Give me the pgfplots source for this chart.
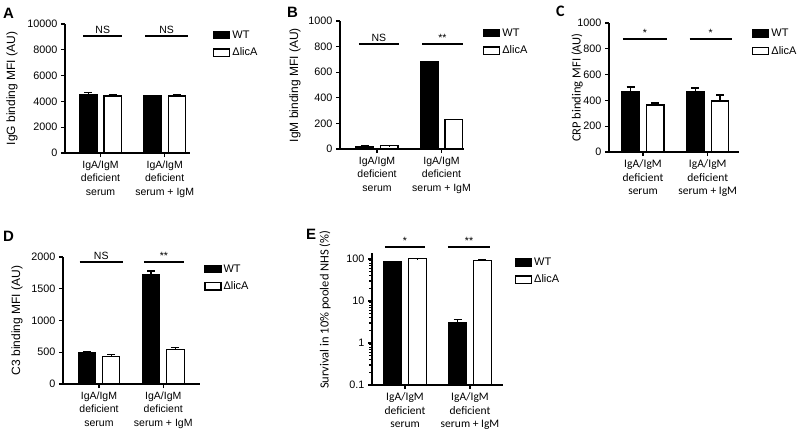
\documentclass[border=0pt]{standalone}
\usepackage{pgfplots}
\pgfplotsset{compat=1.18}
\usepackage{fontspec}
\setmainfont{Liberation Sans}
\newfontfamily\calib{Carlito}

\pgfplotsset{
 panel/.style={
  scale only axis,
  axis x line*=bottom, axis y line*=left,
  axis line style={line width=1.3pt},
  tick align=outside,
  major tick length=4pt,
  every tick/.style={black, line width=1.1pt},
  xtick={1,2},
  xticklabels={{IgA/IgM\\deficient\\serum},{IgA/IgM\\deficient\\serum + IgM}},
  xticklabel style={align=center, font=\fontsize{10.5}{13.5}\selectfont},
  yticklabel style={font=\fontsize{10.8}{11}\selectfont},
  scaled y ticks=false,
  /pgf/number format/assume math mode=true,
  /pgf/number format/1000 sep={},
  ylabel style={font=\fontsize{12}{12}\selectfont},
  clip=false,
  ymin=0,
  legend style={draw=none, fill=none, inner sep=0pt, font=\fontsize{11}{12}\selectfont, row sep=4pt, legend cell align=left},
 },
 wtbar/.style={ybar, bar width=0.27, bar shift=0pt, fill=black, draw=black, line width=1.2pt,
  /pgfplots/legend image code/.code={\draw[fill=black,draw=black,line width=1.2pt] (0pt,-3.6pt) rectangle (16pt,3.6pt);},
  error bars/.cd, y dir=plus, y explicit, error mark=|, error bar style={line width=1.1pt, black}, error mark options={line width=1.1pt, mark size=4pt, black}},
 kobar/.style={ybar, bar width=0.27, bar shift=0pt, fill=white, draw=black, line width=1.2pt,
  /pgfplots/legend image code/.code={\draw[fill=white,draw=black,line width=1.2pt] (0pt,-3.6pt) rectangle (16pt,3.6pt);},
  error bars/.cd, y dir=plus, y explicit, error mark=|, error bar style={line width=1.1pt, black}, error mark options={line width=1.1pt, mark size=4pt, black}},
}
\newcommand{\sig}[4]{\draw[line width=1.3pt] (axis cs:#1,#3) -- (axis cs:#2,#3) node[midway, above, inner sep=1.5pt, font=\fontsize{10.5}{10}\selectfont] {#4};}
\newcommand{\panellabel}[3]{\node[anchor=base west, inner sep=0pt, font=\bfseries\fontsize{15}{15}\selectfont] at (#1pt,-#2pt) {#3};}

\begin{document}
\begin{tikzpicture}
\useasboundingbox (0,0) rectangle (800pt,-432pt);

% ---------- A ----------
\begin{axis}[panel, at={(65pt,-153pt)}, anchor=south west, width=125pt, height=129pt,
  xmin=0.447, xmax=2.394, ymax=10000, ytick={0,2000,...,10000},
  ylabel={IgG binding MFI (AU)}, ylabel style={at={(axis description cs:-0.424,0.5)}, anchor=center},
  legend style={at={(1.184,0.965)}, anchor=north west}]
\addplot[wtbar] coordinates {(0.81,4550) +- (0,130) (1.81,4420) +- (0,30)};
\addplot[kobar] coordinates {(1.19,4420) +- (0,80) (2.19,4420) +- (0,80)};
\legend{WT, ΔlicA}
\sig{0.73}{1.34}{9070}{NS}
\sig{1.70}{2.36}{9070}{NS}
\end{axis}

% ---------- B ----------
\begin{axis}[panel, at={(340pt,-149pt)}, anchor=south west, width=124pt, height=128pt,
  xmin=0.426, xmax=2.349, ymax=1000, ytick={0,200,...,1000},
  ylabel={IgM binding MFI (AU)}, ylabel style={at={(axis description cs:-0.363,0.5)}, anchor=center},
  legend style={at={(1.153,0.957)}, anchor=north west}]
\addplot[wtbar] coordinates {(0.81,22) +- (0,2) (1.81,680) +- (0,5)};
\addplot[kobar] coordinates {(1.19,25) +- (0,2) (2.19,232) +- (0,2)};
\legend{WT, ΔlicA}
\sig{0.72}{1.34}{820}{NS}
\sig{1.70}{2.33}{820}{**}
\end{axis}

% ---------- C ----------
\begin{axis}[panel, at={(609pt,-152pt)}, anchor=south west, width=130pt, height=129pt,
  xmin=0.475, xmax=2.483, ymax=1000, ytick={0,200,...,1000},
  xticklabel style={font=\calib\fontsize{11.5}{13.5}\selectfont},
  ylabel={CRP binding MFI (AU)}, ylabel style={font=\calib\fontsize{12.5}{12}\selectfont, at={(axis description cs:-0.245,0.5)}, anchor=center},
  legend style={at={(1.10,0.97)}, anchor=north west}]
\addplot[wtbar] coordinates {(0.81,465) +- (0,39) (1.81,465) +- (0,31)};
\addplot[kobar] coordinates {(1.19,364) +- (0,16) (2.19,395) +- (0,47)};
\legend{WT, ΔlicA}
\sig{0.69}{1.37}{876}{*}
\sig{1.72}{2.37}{876}{*}
\end{axis}

% ---------- D ----------
\begin{axis}[panel, at={(63pt,-384pt)}, anchor=south west, width=137pt, height=127pt,
  xmin=0.44, xmax=2.572, ymax=2000, ytick={0,500,...,2000},
  ylabel={C3 binding MFI (AU)}, ylabel style={at={(axis description cs:-0.336,0.5)}, anchor=center},
  legend style={at={(1.03,0.957)}, anchor=north west}]
\addplot[wtbar] coordinates {(0.81,500) +- (0,5) (1.81,1720) +- (0,60)};
\addplot[kobar] coordinates {(1.19,430) +- (0,35) (2.19,540) +- (0,30)};
\legend{WT, ΔlicA}
\sig{0.70}{1.37}{1921}{NS}
\sig{1.70}{2.32}{1921}{**}
\end{axis}

% ---------- E ----------
\begin{axis}[panel, at={(372pt,-385pt)}, anchor=south west, width=131pt, height=132pt,
  xmin=0.492, xmax=2.508, ymode=log, log origin=infty, ymin=0.1, ymax=139,
  ytick={0.1,1,10,100}, yticklabels={0.1,1,10,100}, minor ytick={},
  xticklabel style={font=\calib\fontsize{11.5}{13.5}\selectfont},
  ylabel={Survival in 10\% pooled NHS (\%)}, ylabel style={font=\calib\fontsize{12.5}{12}\selectfont, at={(axis description cs:-0.359,0.57)}, anchor=center},
  legend style={at={(1.09,0.98)}, anchor=north west}]
\addplot[wtbar] coordinates {(0.81,85) +- (0,2) (1.81,3.0) +- (0,0.55)};
\addplot[kobar] coordinates {(1.19,101) +- (0,1) (2.19,92) +- (0,4)};
\legend{WT, ΔlicA}
\sig{0.69}{1.31}{194}{*}
\sig{1.66}{2.31}{194}{**}
\end{axis}

\panellabel{3}{18}{A}
\panellabel{287}{17}{B}
\node[anchor=base west, inner sep=0pt, font=\calib\bfseries\fontsize{16}{16}\selectfont] at (556pt,-16pt) {C};
\panellabel{3}{241}{D}
\panellabel{306}{239}{E}
\end{tikzpicture}
\end{document}
